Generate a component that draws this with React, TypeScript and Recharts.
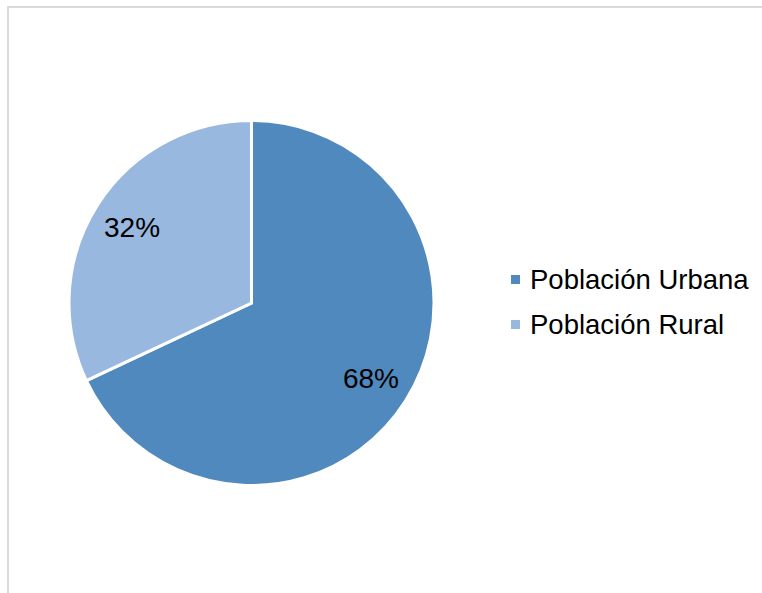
import { PieChart, Pie, Cell, Legend } from 'recharts';

const categories = ['Población Urbana', 'Población Rural'];
const shares = [68, 32];
const COLORS = ['#4F89BE', '#98B8DF'];

const data = categories.map((name, i) => ({ name, value: shares[i] }));

const RADIAN = Math.PI / 180;
const FONT = '"Liberation Sans", Arial, sans-serif';

function renderLabel(props: any) {
  const { cx, cy, midAngle, outerRadius, value } = props;
  const r = outerRadius * 0.775;
  const x = cx + r * Math.cos(-midAngle * RADIAN);
  const y = cy + r * Math.sin(-midAngle * RADIAN);
  return (
    <text
      x={x}
      y={y}
      fill="#000"
      fontSize={28}
      fontFamily={FONT}
      textAnchor="middle"
      dominantBaseline="central"
    >
      {value}%
    </text>
  );
}

function renderLegend() {
  return (
    <div style={{ fontFamily: FONT, fontSize: 27.5, color: '#000' }}>
      {categories.map((name, i) => (
        <div key={name} style={{ display: 'flex', alignItems: 'center', height: 45 }}>
          <span
            style={{
              display: 'inline-block',
              width: 9,
              height: 9,
              background: COLORS[i],
              marginRight: 10,
            }}
          />
          <span>{name}</span>
        </div>
      ))}
    </div>
  );
}

export default function App() {
  return (
    <div
      style={{
        position: 'absolute',
        left: 0,
        top: 0,
        width: 762,
        height: 593,
        overflow: 'hidden',
        background: '#fff',
      }}
    >
      {/* chart area frame, only top and left edges show */}
      <div style={{ position: 'absolute', left: 7, top: 6, width: 755, height: 2, background: '#D9D9D9' }} />
      <div style={{ position: 'absolute', left: 7, top: 6, width: 2, height: 587, background: '#D9D9D9' }} />
      <div style={{ position: 'absolute', left: 0, top: 0 }}>
        <PieChart width={762} height={593} margin={{ top: 0, right: 0, bottom: 0, left: 0 }}>
          <Pie
            data={data}
            dataKey="value"
            nameKey="name"
            cx={251.5}
            cy={303}
            outerRadius={182.5}
            startAngle={90}
            endAngle={-270}
            stroke="#fff"
            strokeWidth={3}
            label={renderLabel}
            labelLine={false}
            isAnimationActive={false}
          >
            {data.map((d, i) => (
              <Cell key={d.name} fill={COLORS[i]} />
            ))}
          </Pie>
          <Legend
            content={renderLegend}
            wrapperStyle={{ position: 'absolute', left: 511, top: 257, width: 250 }}
          />
        </PieChart>
      </div>
    </div>
  );
}
